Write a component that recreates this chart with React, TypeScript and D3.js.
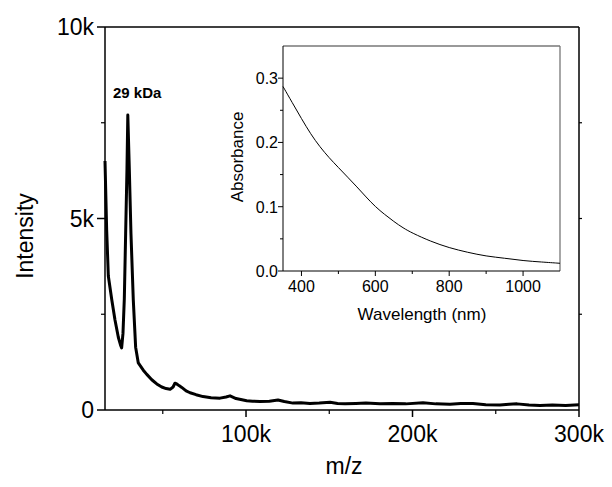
import React from 'react';
import * as d3 from 'd3';

const width = 612;
const height = 487;
const margin = { top: 27, right: 33, bottom: 77, left: 105 };
const inset = { left: 283, top: 46, right: 560, bottom: 271 };

// mass spectrum (m/z in Da, intensity in counts)
const mzValues = [
    15300, 16300, 17300, 19300, 21300, 23300, 24600, 25300, 26100, 26900, 27700, 28500, 29000,
    29900, 30900, 32300, 33700, 35300, 38300, 40400, 43400, 46400, 49400, 52000,
    54400, 56200, 57300, 58400, 60000, 61400, 64000, 66400, 70000, 74200, 79000, 84400, 88000,
    90400, 94000, 100400, 104000, 108400, 114000, 119200, 123000, 128200, 133000, 138400, 144000,
    150500, 155000, 159500, 166000, 172000, 180500, 188000, 196000, 206300, 214000, 222500, 229000,
    236300, 244000, 252500, 258000, 262800, 270000, 276600, 284000, 292000, 300000,
];
const intensityValues = [
    6500, 4700, 3500, 2900, 2350, 1900, 1700, 1620, 2000, 2900, 4600, 6300, 7700,
    6300, 4600, 2870, 1640, 1230, 1040, 930, 790, 680, 600, 560,
    540, 600, 700, 680, 630, 590, 500, 450, 400, 350, 320, 310, 340,
    370, 300, 240, 230, 220, 230, 260, 220, 180, 190, 170, 180,
    200, 170, 160, 170, 180, 160, 170, 160, 190, 160, 150, 170,
    170, 140, 130, 150, 160, 130, 120, 130, 120, 140,
];

const mainXTicks = [100000, 200000, 300000];
const mainXMinor = [50000, 150000, 250000];
const mainYTicks = [0, 5000, 10000];
const mainYMinor = [2500, 7500];

// inset absorbance spectrum
const wavelengths = [350, 375, 400, 425, 450, 475, 500, 525, 550, 575, 600, 625, 650, 675, 700, 750, 800, 850, 900, 950, 1000, 1050, 1100];
const absorbance = [0.287, 0.262, 0.237, 0.213, 0.193, 0.176, 0.161, 0.146, 0.131, 0.115, 0.1, 0.088, 0.077, 0.067, 0.059, 0.046, 0.036, 0.029, 0.023, 0.020, 0.016, 0.014, 0.012];

const insetXTicks = [400, 600, 800, 1000];
const insetXMinor = [500, 700, 900];
const insetYTicks = [0.0, 0.1, 0.2, 0.3];
const insetYMinor = [0.05, 0.15, 0.25];

const font = 'Liberation Sans, Arial, Helvetica, sans-serif';
const fmtK = (d: number) => (d === 0 ? '0' : `${d / 1000}k`);

export default function App() {
    const x = d3.scaleLinear().domain([15300, 300000]).range([margin.left, width - margin.right]);
    const y = d3.scaleLinear().domain([0, 10000]).range([height - margin.bottom, margin.top]);

    const ix = d3.scaleLinear().domain([350, 1100]).range([inset.left, inset.right]);
    const iy = d3.scaleLinear().domain([0, 0.35]).range([inset.bottom, inset.top]);

    const massLine = d3.line<number>()
        .x((_, i) => x(mzValues[i]))
        .y(d => y(d))
        .curve(d3.curveLinear);

    const absLine = d3.line<number>()
        .x((_, i) => ix(wavelengths[i]))
        .y(d => iy(d))
        .curve(d3.curveBasis);

    const x0 = margin.left;
    const x1 = width - margin.right;
    const y0 = height - margin.bottom;
    const y1 = margin.top;

    return (
        <svg width={width} height={height} style={{ position: 'absolute', left: 0, top: 0, background: '#fff' }} fontFamily={font}>
            <rect width={width} height={height} fill="#fff" />

            {/* main frame */}
            <line x1={x0} y1={y1} x2={x1} y2={y1} stroke="#000" strokeWidth={1.5} />
            <line x1={x1} y1={y1} x2={x1} y2={y0} stroke="#000" strokeWidth={1.5} />
            <line x1={x0} y1={y0} x2={x1} y2={y0} stroke="#000" strokeWidth={1.5} />
            <line x1={x0} y1={y1} x2={x0} y2={y0} stroke="#000" strokeWidth={1.5} />

            {mainXTicks.map(t => (
                <g key={t}>
                    <line x1={x(t)} x2={x(t)} y1={y0} y2={y0 + 7} stroke="#000" strokeWidth={1.5} />
                    <text x={x(t)} y={y0 + 32} fontSize={23} textAnchor="middle">{fmtK(t)}</text>
                </g>
            ))}
            {mainXMinor.map(t => (
                <line key={t} x1={x(t)} x2={x(t)} y1={y0} y2={y0 + 4} stroke="#000" strokeWidth={1.2} />
            ))}
            {mainYTicks.map(t => (
                <g key={t}>
                    <line x1={x0 - 8} x2={x0} y1={y(t)} y2={y(t)} stroke="#000" strokeWidth={1.5} />
                    <text x={x0 - 11} y={y(t) + 8} fontSize={23} textAnchor="end">{fmtK(t)}</text>
                </g>
            ))}
            {mainYMinor.map(t => (
                <line key={t} x1={x0 - 4} x2={x0} y1={y(t)} y2={y(t)} stroke="#000" strokeWidth={1.2} />
            ))}
            {[...mainYMinor, 5000].map(t => (
                <line key={`r${t}`} x1={x1} x2={x1 + 3} y1={y(t)} y2={y(t)} stroke="#000" strokeWidth={1.2} />
            ))}

            <text x={344} y={474} fontSize={23} textAnchor="middle">m/z</text>
            <text transform={`translate(33, 236) rotate(-90)`} fontSize={23} textAnchor="middle">Intensity</text>

            <path d={massLine(intensityValues) || ''} fill="none" stroke="#000" strokeWidth={3} strokeLinejoin="round" />
            <text x={113} y={98} fontSize={15} fontWeight="bold">29 kDa</text>

            {/* inset */}
            <rect x={inset.left} y={inset.top} width={inset.right - inset.left} height={inset.bottom - inset.top} fill="#fff" />
            <line x1={inset.left} y1={inset.top} x2={inset.right} y2={inset.top} stroke="#777" strokeWidth={1.3} />
            <line x1={inset.right} y1={inset.top} x2={inset.right} y2={inset.bottom} stroke="#777" strokeWidth={1.3} />
            <line x1={inset.left} y1={inset.bottom} x2={inset.right} y2={inset.bottom} stroke="#000" strokeWidth={1} />
            <line x1={inset.left} y1={inset.top} x2={inset.left} y2={inset.bottom} stroke="#000" strokeWidth={1} />

            {insetXTicks.map(t => (
                <g key={t}>
                    <line x1={ix(t)} x2={ix(t)} y1={inset.bottom} y2={inset.bottom + 5} stroke="#000" />
                    <text x={ix(t)} y={inset.bottom + 21} fontSize={16} textAnchor="middle">{t}</text>
                </g>
            ))}
            {insetXMinor.map(t => (
                <line key={t} x1={ix(t)} x2={ix(t)} y1={inset.bottom} y2={inset.bottom + 3} stroke="#000" />
            ))}
            {insetYTicks.map(t => (
                <g key={t}>
                    <line x1={inset.left - 5} x2={inset.left} y1={iy(t)} y2={iy(t)} stroke="#000" />
                    <text x={inset.left - 5} y={iy(t) + 6} fontSize={16} textAnchor="end">{t.toFixed(1)}</text>
                </g>
            ))}
            {insetYMinor.map(t => (
                <line key={t} x1={inset.left - 3} x2={inset.left} y1={iy(t)} y2={iy(t)} stroke="#000" />
            ))}

            <text x={422} y={320} fontSize={17} textAnchor="middle">Wavelength (nm)</text>
            <text transform={`translate(243, 157) rotate(-90)`} fontSize={17} textAnchor="middle">Absorbance</text>

            <path d={absLine(absorbance) || ''} fill="none" stroke="#000" strokeWidth={1} />
        </svg>
    );
}
